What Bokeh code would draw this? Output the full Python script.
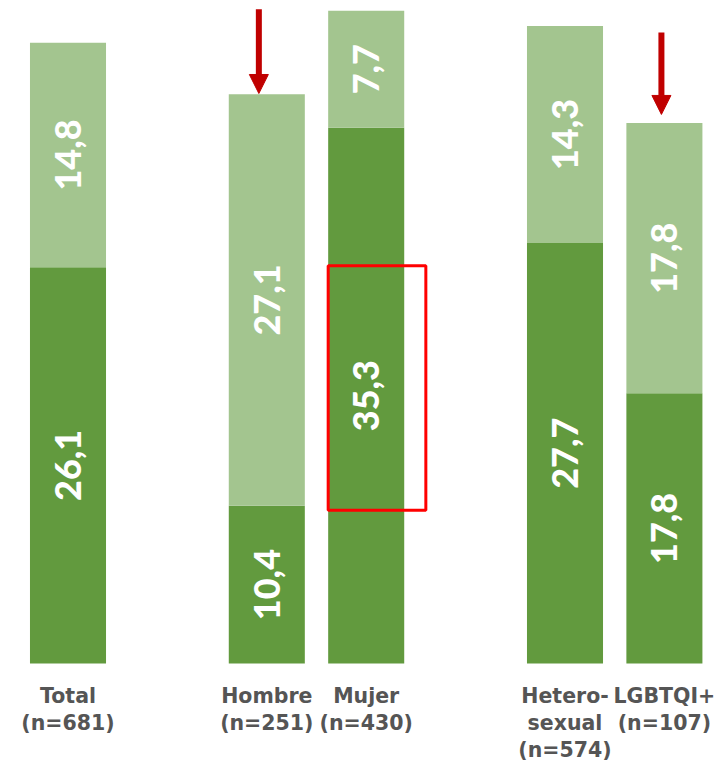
from bokeh.plotting import figure
from bokeh.models import Range1d, Arrow, NormalHead, ColumnDataSource
from bokeh.core.properties import value
from bokeh.embed import file_html
from bokeh.resources import INLINE
import math

# --- data -------------------------------------------------------------
groups = ["Total", "Hombre", "Mujer", "Heterosexual", "LGBTQI+"]
slots = [0, 2, 3, 5, 6]                       # horizontal position of each bar
lower_vals = [26.1, 10.4, 35.3, 27.7, 17.8]   # dark green segment
upper_vals = [14.8, 27.1, 7.7, 14.3, 17.8]    # light green segment
n_values = [681, 251, 430, 574, 107]
label_lines = [
    ["Total", "(n=681)"],
    ["Hombre", "(n=251)"],
    ["Mujer", "(n=430)"],
    ["Hetero-", "sexual", "(n=574)"],
    ["LGBTQI+", "(n=107)"],
]
arrow_groups = ["Hombre", "LGBTQI+"]
highlight_group = "Mujer"

# --- styling ----------------------------------------------------------
DARK = "#629a3e"
LIGHT = "#a3c58f"
ARROW_RED = "#c00000"
BOX_RED = "#ff0000"
TEXT_GRAY = "#555555"
BAR_W = 0.765

W, H = 717, 764
PX_X = 99.4     # pixels per slot
PX_Y = 15.18    # pixels per percentage point
x0_px, y0_px = 67.5, 663

p = figure(
    width=W, height=H, output_backend="svg", toolbar_location=None,
    x_range=Range1d(-x0_px / PX_X, (W - x0_px) / PX_X),
    y_range=Range1d(-(H - y0_px) / PX_Y, y0_px / PX_Y),
    min_border=0, outline_line_color=None, background_fill_color="white",
    border_fill_color="white",
)
p.axis.visible = False
p.grid.visible = False

totals = [a + b for a, b in zip(lower_vals, upper_vals)]
src = ColumnDataSource(dict(
    x=slots, low=lower_vals, tot=totals,
    low_mid=[v / 2 for v in lower_vals],
    up_mid=[a + b / 2 for a, b in zip(lower_vals, upper_vals)],
    low_txt=[f"{v:.1f}".replace(".", ",") for v in lower_vals],
    up_txt=[f"{v:.1f}".replace(".", ",") for v in upper_vals],
))

p.vbar(x="x", width=BAR_W, bottom=0, top="low", source=src,
       fill_color=DARK, line_color=None)
p.vbar(x="x", width=BAR_W, bottom="low", top="tot", source=src,
       fill_color=LIGHT, line_color=None)

# value labels, rotated inside each segment
for ycol, tcol in (("low_mid", "low_txt"), ("up_mid", "up_txt")):
    p.text(x="x", y=ycol, text=tcol, source=src, angle=math.pi / 2,
           text_align="center", text_baseline="middle",
           text_font=value("Lato Black, Lato"), text_font_style="bold",
           text_font_size="36px", text_color="white")

# category labels below the bars
line_y = [-2.17, -3.95, -5.73]
for xs, lines in zip(slots, label_lines):
    for i, t in enumerate(lines):
        p.text(x=[xs], y=[line_y[i]], text=[t], text_align="center",
               text_baseline="middle", text_font=value("DejaVu Sans"),
               text_font_style="bold", text_font_size="20.5px",
               text_color=TEXT_GRAY)

# arrows pointing at the highlighted bars
arrow_dx = {"Hombre": -0.08, "LGBTQI+": -0.03}
arrow_gap = {"Hombre": 0.05, "LGBTQI+": 0.57}
arrow_len = {"Hombre": 5.55, "LGBTQI+": 5.4}
for g in arrow_groups:
    i = groups.index(g)
    xa = slots[i] + arrow_dx[g]
    tip = totals[i] + arrow_gap[g]
    p.add_layout(Arrow(
        end=NormalHead(size=19, fill_color=ARROW_RED, line_color=ARROW_RED,
                       line_width=1),
        x_start=xa, y_start=tip + arrow_len[g], x_end=xa, y_end=tip,
        line_color=ARROW_RED, line_width=6,
    ))

# red frame around the dark segment of Mujer
k = groups.index(highlight_group)
p.quad(left=[slots[k] - BAR_W / 2], right=[slots[k] + 0.6],
       bottom=[10.1], top=[26.2], fill_alpha=0,
       line_color=BOX_RED, line_width=3)

open("out.html", "w").write(file_html(p, INLINE))
